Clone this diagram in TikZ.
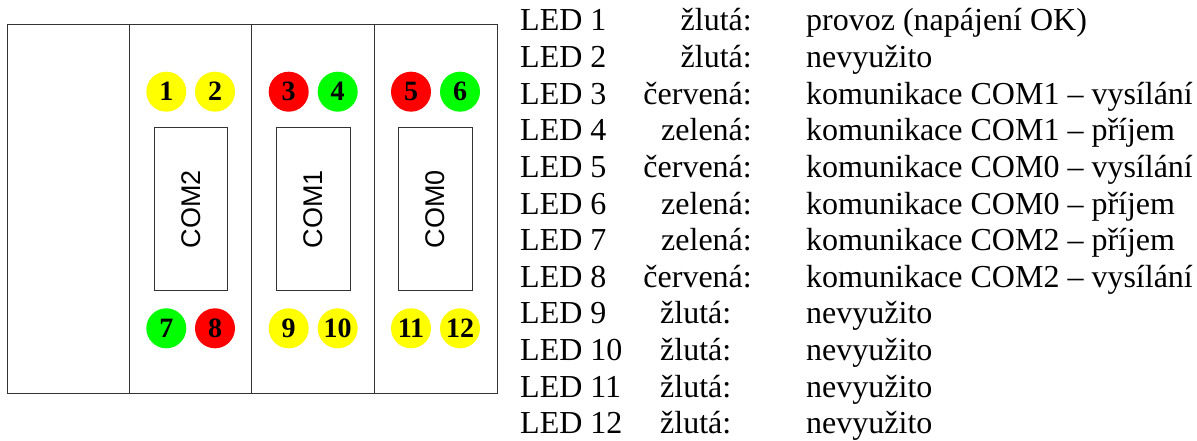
\documentclass[tikz,border=0pt]{standalone}
\usepackage{fontspec}
\setmainfont{Liberation Serif}
\newfontfamily\arialfont{Liberation Sans}
\definecolor{ledyellow}{RGB}{255,255,0}
\definecolor{ledred}{RGB}{255,0,0}
\definecolor{ledgreen}{RGB}{0,255,0}
\begin{document}
\begin{tikzpicture}[x=1pt,y=-1pt,
  frame/.style={draw=black!80,line width=1pt},
  led/.style={circle,minimum size=40pt,inner sep=0pt,font=\fontsize{28}{28}\selectfont\bfseries},
  port/.style={draw=black!80,line width=1pt,minimum width=73.7pt,minimum height=163pt,inner sep=0pt},
  portlabel/.style={font=\arialfont\fontsize{27}{27}\selectfont,rotate=90},
  txt/.style={font=\fontsize{32}{38}\selectfont,inner sep=0pt}]
\useasboundingbox (0,0) rectangle (1197,441);
\fill[white] (0,0) rectangle (1197,441);
% housing
\coordinate (tl) at (7,25);
\coordinate (br) at (497,393);
\draw[frame] (tl) rectangle (br);
\coordinate (d1t) at (129.3,25); \coordinate (d1b) at (129.3,393);
\coordinate (d2t) at (251.7,25); \coordinate (d2b) at (251.7,393);
\coordinate (d3t) at (374.3,25); \coordinate (d3b) at (374.3,393);
\draw[frame] (d1t) -- (d1b);
\draw[frame] (d2t) -- (d2b);
\draw[frame] (d3t) -- (d3b);
% ports
\node[port] (p2) at (190.9,209.2) {};
\node[port] (p1) at (313.2,209.2) {};
\node[port] (p0) at (435.5,209.2) {};
\node[portlabel] (p2l) at (p2.center) {COM2};
\node[portlabel] (p1l) at (p1.center) {COM1};
\node[portlabel] (p0l) at (p0.center) {COM0};
% LEDs
\node[led,fill=ledyellow] (l1) at (166.3,91.7) {1};
\node[led,fill=ledyellow] (l2) at (215,91.7) {2};
\node[led,fill=ledred] (l3) at (288.7,91.7) {3};
\node[led,fill=ledgreen] (l4) at (337.7,91.7) {4};
\node[led,fill=ledred] (l5) at (411,91.7) {5};
\node[led,fill=ledgreen] (l6) at (460,91.7) {6};
\node[led,fill=ledgreen] (l7) at (166.3,328.3) {7};
\node[led,fill=ledred] (l8) at (215,328.3) {8};
\node[led,fill=ledyellow] (l9) at (288.7,328.3) {9};
\node[led,fill=ledyellow] (l10) at (337.7,328.3) {10};
\node[led,fill=ledyellow] (l11) at (411,328.3) {11};
\node[led,fill=ledyellow] (l12) at (460,328.3) {12};
% legend
\foreach \i/\c/\d [count=\k from 0] in {
  1/žlutá:/provoz (napájení OK),
  2/žlutá:/nevyužito,
  3/červená:/komunikace COM1 – vysílání,
  4/zelená:/komunikace COM1 – příjem,
  5/červená:/komunikace COM0 – vysílání,
  6/zelená:/komunikace COM0 – příjem,
  7/zelená:/komunikace COM2 – příjem,
  8/červená:/komunikace COM2 – vysílání}{
  \node[txt,anchor=base west] (n\i) at (520,31+36.6*\k) {LED \i};
  \node[txt,anchor=base east] (c\i) at (752,31+36.6*\k) {\c};
  \node[txt,anchor=base west] (t\i) at (806,31+36.6*\k) {\d};
}
\foreach \i [count=\k from 8] in {9,10,11,12}{
  \node[txt,anchor=base west] (n\i) at (520,31+36.6*\k) {LED \i};
  \node[txt,anchor=base west] (c\i) at (660,31+36.6*\k) {žlutá:};
  \node[txt,anchor=base west] (t\i) at (806,31+36.6*\k) {nevyužito};
}
\end{tikzpicture}
\end{document}
